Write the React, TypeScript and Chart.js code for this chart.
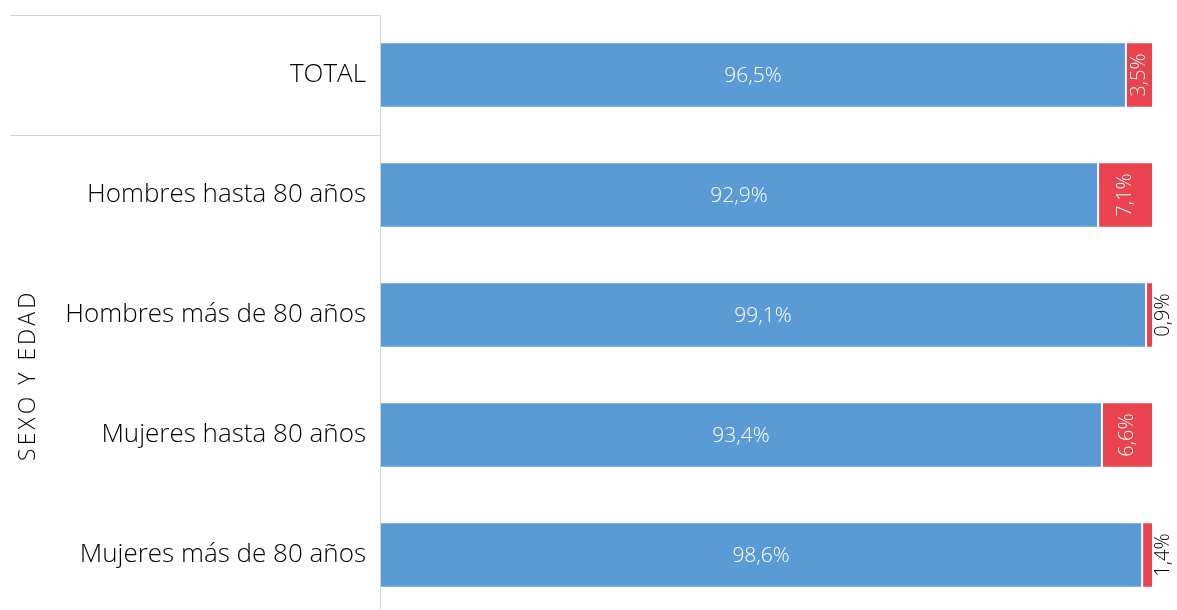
import React, { useEffect, useRef } from "react";
import { Chart, registerables } from "chart.js";

Chart.register(...registerables);

const categories = [
  "TOTAL",
  "Hombres hasta 80 años",
  "Hombres más de 80 años",
  "Mujeres hasta 80 años",
  "Mujeres más de 80 años",
];
const blueValues = [96.5, 92.9, 99.1, 93.4, 98.6];
const redValues = [3.5, 7.1, 0.9, 6.6, 1.4];
const groupTitle = "SEXO Y EDAD";

const FONT = "'Open Sans', 'DejaVu Sans', sans-serif";
const BLUE = "#5B9BD5";
const RED = "#E8434E";
const LINE = "#d4d4d4";

const fmt = (v: number) => v.toFixed(1).replace(".", ",") + "%";

const framePlugin = {
  id: "frame",
  afterDraw(chart: any) {
    const { ctx, chartArea } = chart;
    const y = chart.scales.y;
    ctx.save();
    ctx.strokeStyle = LINE;
    ctx.lineWidth = 1;
    const x0 = 10;
    const xl = Math.round(chartArea.left) + 0.5;
    const top = Math.round(chartArea.top) + 0.5;
    const sep = Math.round((y.getPixelForValue(0) + y.getPixelForValue(1)) / 2) + 0.5;
    ctx.beginPath();
    ctx.moveTo(x0, top);
    ctx.lineTo(xl, top);
    ctx.moveTo(xl, top);
    ctx.lineTo(xl, chartArea.bottom);
    ctx.moveTo(x0, sep);
    ctx.lineTo(xl, sep);
    ctx.stroke();
    // group title
    const midY = (sep + chartArea.bottom) / 2;
    ctx.translate(28, midY);
    ctx.rotate(-Math.PI / 2);
    ctx.fillStyle = "#000";
    ctx.font = `300 23px ${FONT}`;
    (ctx as any).letterSpacing = "3px";
    ctx.textAlign = "center";
    ctx.textBaseline = "middle";
    ctx.fillText(groupTitle, 0, 0);
    ctx.restore();
  },
};

const labelPlugin = {
  id: "barLabels",
  afterDatasetsDraw(chart: any) {
    const { ctx } = chart;
    ctx.save();
    ctx.textBaseline = "middle";
    ctx.textAlign = "center";
    const m0 = chart.getDatasetMeta(0);
    m0.data.forEach((bar: any, i: number) => {
      const cx = (bar.base + bar.x) / 2;
      ctx.fillStyle = "#ffffff";
      ctx.font = `300 21px ${FONT}`;
      ctx.fillText(fmt(blueValues[i]), cx, bar.y + 1);
    });
    const m1 = chart.getDatasetMeta(1);
    m1.data.forEach((bar: any, i: number) => {
      const v = redValues[i];
      let cx: number;
      if (v >= 3) {
        cx = (bar.base + bar.x) / 2;
        ctx.fillStyle = "#ffffff";
      } else {
        cx = bar.x + 10;
        ctx.fillStyle = "#000000";
      }
      ctx.save();
      ctx.translate(cx, bar.y);
      ctx.rotate(-Math.PI / 2);
      ctx.font = `300 20px ${FONT}`;
      ctx.fillText(fmt(v), 0, 0);
      ctx.restore();
    });
    ctx.restore();
  },
};

export default function App() {
  const ref = useRef<HTMLCanvasElement>(null);
  useEffect(() => {
    if (!ref.current) return;
    const chart = new Chart(ref.current, {
      type: "bar",
      data: {
        labels: categories,
        datasets: [
          {
            data: blueValues,
            backgroundColor: BLUE,
            borderColor: "#ffffff",
            borderWidth: 1,
            borderSkipped: false,
            categoryPercentage: 1,
            barPercentage: 0.545,
          },
          {
            data: redValues,
            backgroundColor: RED,
            borderColor: "#ffffff",
            borderWidth: 1,
            borderSkipped: false,
            categoryPercentage: 1,
            barPercentage: 0.545,
          },
        ],
      },
      options: {
        indexAxis: "y",
        responsive: false,
        animation: false,
        layout: { padding: { top: 15, left: 0, right: 24, bottom: 0 } },
        plugins: {
          legend: { display: false },
          tooltip: { enabled: false },
        },
        scales: {
          x: {
            stacked: true,
            min: 0,
            max: 100,
            display: false,
          },
          y: {
            stacked: true,
            grid: { display: false, drawTicks: false },
            border: { display: false },
            ticks: {
              padding: 14,
              color: "#000000",
              font: { family: FONT, size: 26, weight: "300" },
            },
            afterFit(scale: any) {
              scale.width = 380;
              scale.paddingTop = 0;
              scale.paddingBottom = 0;
            },
          },
        },
      },
      plugins: [framePlugin, labelPlugin],
    });
    return () => chart.destroy();
  }, []);
  return (
    <div style={{ position: "absolute", left: 0, top: 0, width: 1177, height: 615, background: "#fff" }}>
      <canvas ref={ref} width={1177} height={615} />
    </div>
  );
}
